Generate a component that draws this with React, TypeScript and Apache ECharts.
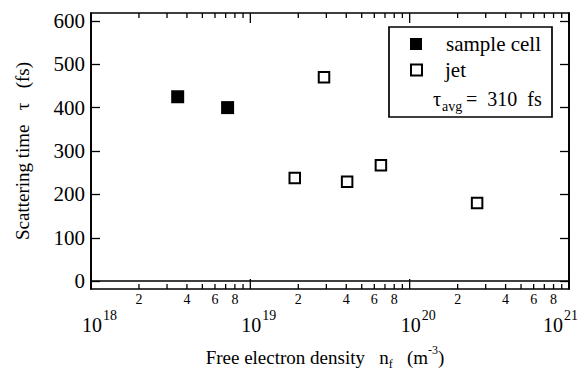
import { useEffect, useRef } from 'react';
import * as echarts from 'echarts';

const FONT = 'Liberation Serif';

// Data
const sampleCellDensity = [3.5e18, 7.2e18];
const sampleCellTau = [425, 400];
const jetDensity = [1.9e19, 2.9e19, 4.05e19, 6.6e19, 2.65e20];
const jetTau = [238, 470, 229, 267, 180];

// Axis ticks / labels
const xDecadeExponents = [18, 19, 20, 21];
const xMantissas = [1, 2, 3, 4, 5, 6, 7, 8, 9];
const xMinorLabels = [2, 4, 6, 8];
const yTickValues = [0, 100, 200, 300, 400, 500, 600];
const legendNames = ['sample cell', 'jet'];
const tauAvgValue = 310;

const xTickValues: number[] = [];
xDecadeExponents.forEach((e, i) => {
  if (i === xDecadeExponents.length - 1) {
    xTickValues.push(Math.pow(10, e));
  } else {
    xMantissas.forEach((m) => xTickValues.push(m * Math.pow(10, e)));
  }
});

const tok = (size: number) => ({ fontFamily: FONT, fontSize: size, color: '#000', fill: '#000' });

const plainText = (x: number, y: number, text: string, size: number, align = 'left') => ({
  type: 'text',
  x,
  y,
  z: 11,
  style: {
    text,
    fontFamily: FONT,
    fontSize: size,
    fill: '#000',
    align,
    verticalAlign: 'middle',
  },
});

export default function App() {
  const ref = useRef<HTMLDivElement>(null);

  useEffect(() => {
    if (!ref.current) return;
    const chart = echarts.init(ref.current, null, { renderer: 'svg' });

    const option: any = {
      animation: false,
      backgroundColor: '#fff',
      textStyle: { fontFamily: FONT },
      grid: {
        left: 91,
        right: 10,
        top: 13,
        bottom: 81,
        show: true,
        borderColor: '#000',
        borderWidth: 1.7,
        outerBoundsMode: 'none',
      },
      xAxis: {
        type: 'log',
        logBase: 10,
        min: 1e18,
        max: 1e21,
        axisLine: { show: true, lineStyle: { color: '#000', width: 1.7 } },
        axisTick: { show: false },
        axisLabel: { show: false },
        splitLine: { show: false },
        name: '{t|Free electron density   n}{sub|f}{t|   (m}{sup|-3}{e|)}',
        nameLocation: 'middle',
        nameGap: 55,
        nameMoveOverlap: false,
        nameTextStyle: {
          color: '#000',
          fontFamily: FONT,
          fontSize: 19,
          rich: {
            t: { ...tok(19), verticalAlign: 'bottom', padding: [0, 0, 3, 0] },
            e: { ...tok(19), verticalAlign: 'bottom', padding: [0, 10, 3, 0] },
            sub: { ...tok(12), verticalAlign: 'bottom', padding: [0, 0, 0, 0] },
            sup: { ...tok(12), verticalAlign: 'bottom', padding: [0, 0, 14, 0] },
          },
        },
      },
      yAxis: [
        {
          type: 'value',
          min: -18,
          max: 618,
          position: 'left',
          axisLine: { show: true, lineStyle: { color: '#000', width: 1.7 } },
          axisTick: {
            show: true,
            inside: true,
            length: 9,
            customValues: yTickValues,
            lineStyle: { color: '#000', width: 1.3 },
          },
          axisLabel: {
            show: true,
            customValues: yTickValues,
            margin: 6,
            color: '#000',
            fontFamily: FONT,
            fontSize: 21,
          },
          splitLine: { show: false },
          name: 'Scattering time   τ   (fs)',
          nameLocation: 'middle',
          nameRotate: 90,
          nameGap: 59,
          nameMoveOverlap: false,
          nameTextStyle: { color: '#000', fontFamily: FONT, fontSize: 19 },
        },
        {
          type: 'value',
          min: -18,
          max: 618,
          position: 'right',
          axisLine: { show: true, lineStyle: { color: '#000', width: 1.7 } },
          axisTick: {
            show: true,
            inside: true,
            length: 9,
            customValues: yTickValues,
            lineStyle: { color: '#000', width: 1.3 },
          },
          axisLabel: { show: false },
          splitLine: { show: false },
        },
      ],
      series: [
        {
          name: 'xTicks',
          type: 'custom',
          silent: true,
          clip: false,
          z: 5,
          data: xTickValues.map((v) => [v, 0]),
          renderItem: (params: any, api: any) => {
            const v = api.value(0) as number;
            const cs = params.coordSys;
            const p = api.coord([v, 0]);
            const x = p[0];
            const bottom = cs.y + cs.height;
            const top = cs.y;
            const e = Math.floor(Math.log10(v) + 1e-9);
            const m = Math.round(v / Math.pow(10, e));
            const major = m === 1;
            const len = major ? 10 : 5;
            const lineStyle = { stroke: '#000', lineWidth: 1.3 };
            const children: any[] = [
              { type: 'line', shape: { x1: x, y1: bottom, x2: x, y2: bottom - len }, style: lineStyle },
              { type: 'line', shape: { x1: x, y1: top, x2: x, y2: top + len }, style: lineStyle },
            ];
            if (major) {
              // keep the last decade label inside the chart's right edge
              const shift = x > cs.x + cs.width - 1 ? -17 : 0;
              children.push({
                type: 'text',
                x: x + 1 + shift,
                y: bottom + 36,
                style: { text: '10', fontSize: 20, fontFamily: FONT, fill: '#000', align: 'center', verticalAlign: 'middle' },
              });
              children.push({
                type: 'text',
                x: x + 12 + shift,
                y: bottom + 26,
                style: { text: String(e), fontSize: 14, fontFamily: FONT, fill: '#000', align: 'left', verticalAlign: 'middle' },
              });
            } else if (xMinorLabels.indexOf(m) >= 0) {
              children.push({
                type: 'text',
                x: x,
                y: bottom + 10,
                style: { text: String(m), fontSize: 14, fontFamily: FONT, fill: '#000', align: 'center', verticalAlign: 'middle' },
              });
            }
            return { type: 'group', children };
          },
        },
        {
          name: legendNames[0],
          type: 'scatter',
          symbol: 'rect',
          symbolSize: 13,
          itemStyle: { color: '#000', opacity: 1 },
          z: 3,
          data: sampleCellDensity.map((d, i) => [d, sampleCellTau[i]]),
        },
        {
          name: legendNames[1],
          type: 'scatter',
          symbol: 'rect',
          symbolSize: 10.5,
          itemStyle: { color: '#fff', borderColor: '#000', borderWidth: 2, opacity: 1 },
          z: 3,
          data: jetDensity.map((d, i) => [d, jetTau[i]]),
        },
      ],
      graphic: [
        {
          type: 'rect',
          shape: { x: 389, y: 27, width: 163, height: 90 },
          style: { fill: '#fff', stroke: '#000', lineWidth: 1.7 },
          z: 10,
        },
        {
          type: 'rect',
          shape: { x: 410, y: 38, width: 12, height: 12 },
          style: { fill: '#000' },
          z: 11,
        },
        {
          type: 'rect',
          shape: { x: 411, y: 64.5, width: 11, height: 11 },
          style: { fill: '#fff', stroke: '#000', lineWidth: 2 },
          z: 11,
        },
        plainText(446, 44, legendNames[0], 21),
        plainText(445, 70, legendNames[1], 21),
        plainText(433, 99, 'τ', 20),
        plainText(442, 106, 'avg', 14),
        plainText(466, 99, '=  ' + tauAvgValue + '  fs', 20),
      ],
    };

    chart.setOption(option);
    return () => {
      chart.dispose();
    };
  }, []);

  return (
    <div
      ref={ref}
      style={{ position: 'fixed', left: 0, top: 0, width: 579, height: 370, background: '#fff' }}
    />
  );
}
